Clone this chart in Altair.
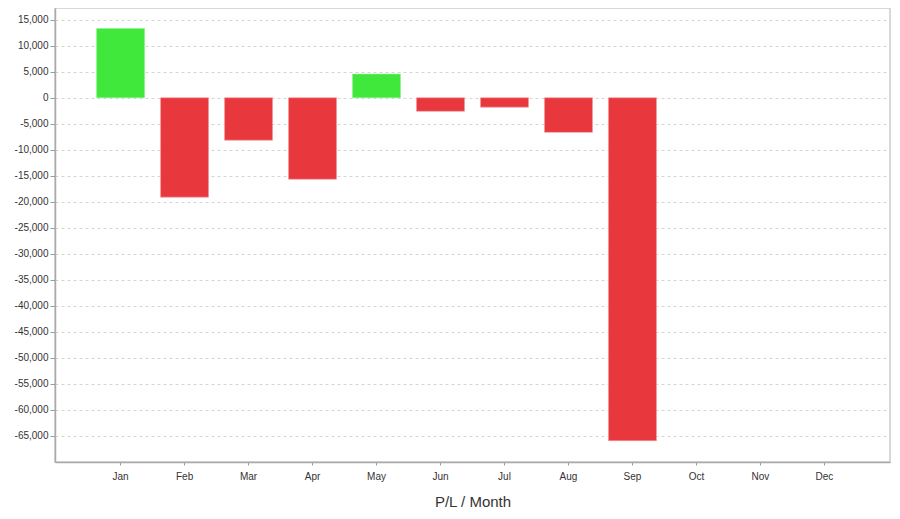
import altair as alt
import pandas as pd

months = ["Jan", "Feb", "Mar", "Apr", "May", "Jun", "Jul", "Aug", "Sep", "Oct", "Nov", "Dec"]
pl_values = [13300, -19100, -8150, -15650, 4550, -2600, -1800, -6650, -65900, None, None, None]
y_ticks = list(range(-65000, 15001, 5000))

df = pd.DataFrame({"month": months, "pl": pl_values})
df["sign"] = ["pos" if (v is not None and v == v and v >= 0) else "neg" for v in df["pl"]]

font = "Liberation Sans"

bars = alt.Chart(df).mark_bar(strokeWidth=1, strokeOpacity=0.6).encode(
    x=alt.X(
        "month:N",
        sort=months,
        scale=alt.Scale(domain=months, paddingInner=0.25, paddingOuter=0.65),
        axis=alt.Axis(
            title="P/L / Month",
            labelAngle=0,
            labelFontSize=10,
            labelColor="#333333",
            labelFont=font,
            labelPadding=6,
            tickSize=3,
            tickColor="#999999",
            domainColor="#aaaaaa",
            domainWidth=1.5,
            titleFont=font,
            titleFontSize=15,
            titleFontWeight="normal",
            titleColor="#333333",
            titlePadding=13,
            grid=False,
        ),
    ),
    y=alt.Y(
        "pl:Q",
        scale=alt.Scale(domain=[-70000, 17250], nice=False, zero=True),
        axis=alt.Axis(
            title=None,
            values=y_ticks,
            labelExpr="(datum.value < 0 ? '-' : '') + format(abs(datum.value), ',.0f')",
            labelFontSize=10,
            labelColor="#333333",
            labelFont=font,
            labelPadding=2,
            tickSize=5,
            tickColor="#999999",
            domainColor="#aaaaaa",
            domainWidth=1.5,
            grid=True,
            gridColor="#d4d4d4",
            gridDash=[3, 3],
            gridWidth=1,
        ),
    ),
    color=alt.Color(
        "sign:N",
        scale=alt.Scale(domain=["pos", "neg"], range=["#3fe83a", "#e8383d"]),
        legend=None,
    ),
    stroke=alt.Stroke(
        "sign:N",
        scale=alt.Scale(domain=["pos", "neg"], range=["#8ff08a", "#f09a9c"]),
        legend=None,
    ),
)

chart = bars.properties(
    width=835,
    height=454,
    autosize=alt.AutoSizeParams(type="none"),
    padding={"left": 47, "top": 0, "right": 1, "bottom": 46},
    background="white",
).configure_view(stroke="#cccccc", strokeWidth=1.5)

chart.save("out.html", embed_options={"renderer": "svg", "actions": False})
